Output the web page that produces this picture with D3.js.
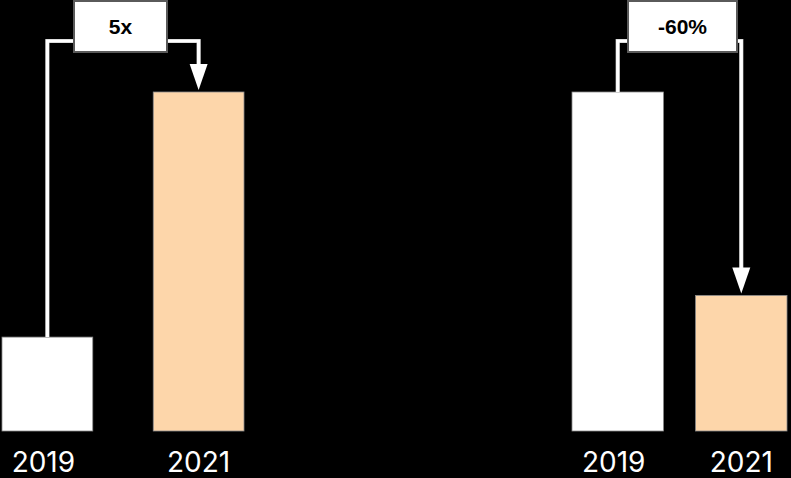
<!DOCTYPE html>
<html>
<head>
<meta charset="utf-8">
<script src="https://cdn.jsdelivr.net/npm/d3@7"></script>
<style>
  html, body { margin: 0; padding: 0; background: #000; }
  svg { display: block; }
</style>
</head>
<body>
<svg id="chart" width="791" height="478"></svg>
<script>
// ---- data ----
const years = ["2019", "2021"];
const leftValues = [27.7, 100];
const rightValues = [100, 40];
const annotationLabels = ["5x", "-60%"];

// ---- layout ----
const W = 791, H = 478;
const svg = d3.select("#chart");
svg.append("rect").attr("width", W).attr("height", H).attr("fill", "#000");

const y = d3.scaleLinear().domain([0, 100]).range([431, 92]);
const barColors = ["#ffffff", "#fdd6aa"];
const labelShift = [-4, 0];

const panels = [
  { values: leftValues, label: annotationLabels[0],
    x: d3.scaleBand().domain(years).range([2, 244]).paddingInner(0.4).paddingOuter(0),
    box: [74, 167] },
  { values: rightValues, label: annotationLabels[1],
    x: d3.scaleBand().domain(years).range([572, 787]).paddingInner(0.26).paddingOuter(0),
    box: [628, 737] }
];

const lineY = 41;

panels.forEach(p => {
  const g = svg.append("g");
  const data = years.map((yr, i) => ({ yr, v: p.values[i], i }));

  g.selectAll("rect.bar").data(data).enter().append("rect")
    .attr("class", "bar")
    .attr("x", d => p.x(d.yr))
    .attr("y", d => y(d.v))
    .attr("width", p.x.bandwidth())
    .attr("height", d => y(0) - y(d.v))
    .attr("fill", d => barColors[d.i])
    .attr("stroke", "#8a8a8a")
    .attr("stroke-width", 0.8);

  // axis labels
  const axis = d3.axisBottom(p.x).tickSize(0).tickPadding(0);
  const ax = g.append("g").attr("transform", `translate(0,${y(0)})`).call(axis);
  ax.select(".domain").remove();
  ax.selectAll("text")
    .attr("dy", 0)
    .attr("y", 41)
    .attr("dx", (d, i) => labelShift[i])
    .attr("fill", "#fff")
    .style("font-family", "Inter, 'Noto Sans', sans-serif")
    .style("font-size", "28px")
    .style("font-weight", 400);

  // connector
  const x0 = p.x(years[0]) + p.x.bandwidth() / 2;
  const x1 = p.x(years[1]) + p.x.bandwidth() / 2;
  const top0 = y(p.values[0]);
  const top1 = y(p.values[1]);
  const arrowH = 26, arrowW = 18;
  const tipY = top1 - 2;

  const path = d3.path();
  path.moveTo(x0, top0);
  path.lineTo(x0, lineY);
  path.lineTo(x1, lineY);
  path.lineTo(x1, tipY - arrowH + 2);
  g.append("path").attr("d", path.toString())
    .attr("fill", "none").attr("stroke", "#bbb").attr("stroke-width", 4.2)
    .attr("stroke-linejoin", "miter");
  g.append("path").attr("d", path.toString())
    .attr("fill", "none").attr("stroke", "#fff").attr("stroke-width", 3.2)
    .attr("stroke-linejoin", "miter");

  const tri = d3.path();
  tri.moveTo(x1 - arrowW / 2, tipY - arrowH);
  tri.lineTo(x1 + arrowW / 2, tipY - arrowH);
  tri.lineTo(x1, tipY);
  tri.closePath();
  g.append("path").attr("d", tri.toString()).attr("fill", "#fff");

  // label box
  g.append("rect")
    .attr("x", p.box[0]).attr("y", 1)
    .attr("width", p.box[1] - p.box[0]).attr("height", 51)
    .attr("fill", "#fff").attr("stroke", "#5a5a5a").attr("stroke-width", 2);
  g.append("text")
    .attr("x", (p.box[0] + p.box[1]) / 2).attr("y", 34)
    .attr("text-anchor", "middle")
    .attr("fill", "#000")
    .style("font-family", "'Liberation Sans', Arial, sans-serif")
    .style("font-size", "21px")
    .style("font-weight", 700)
    .text(p.label);
});
</script>
</body>
</html>
